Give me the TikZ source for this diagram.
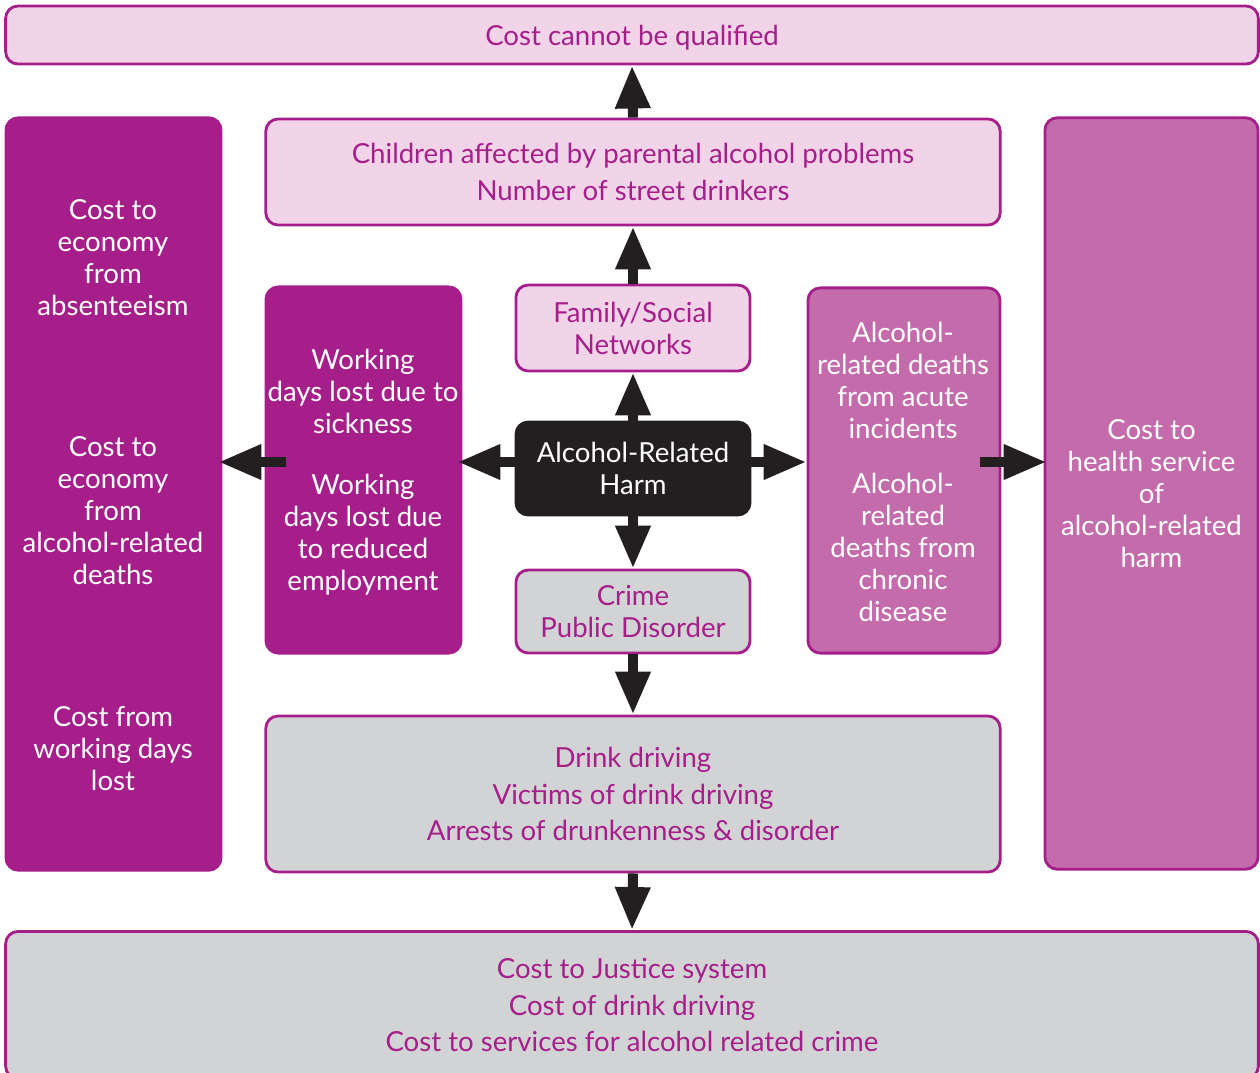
\documentclass[tikz,border=0pt]{standalone}
\usepackage{fontspec}
\setmainfont{Lato}
\usetikzlibrary{arrows.meta}
\definecolor{plum}{RGB}{166,30,138}
\definecolor{orchid}{RGB}{196,107,171}
\definecolor{blush}{RGB}{242,212,232}
\definecolor{ash}{RGB}{209,211,212}
\definecolor{ink}{RGB}{35,31,32}

\tikzset{
  box/.style={draw=plum, line width=0.8pt, rounded corners=3.5pt, align=center, inner sep=0pt, font=\fontsize{7.85}{9.1}\selectfont},
  pinkbox/.style={box, fill=blush, text=plum},
  greybox/.style={box, fill=ash, text=plum},
  plumbox/.style={box, fill=plum, text=white},
  orchidbox/.style={box, fill=orchid, text=white},
  widetext/.style={font=\fontsize{7.85}{10.5}\selectfont},
  coltext/.style={text=white, align=center, inner sep=0pt, font=\fontsize{7.85}{9.1}\selectfont},
  blockarrow/.style={draw=ink, line width=0.1cm, -{Triangle[length=0.43cm, width=0.33cm]}},
}

\begin{document}
\begin{tikzpicture}[x=0.01cm, y=-0.01cm]
    \useasboundingbox (0,0) rectangle (1260,1072);

    % outer boxes
    \node[pinkbox, text depth=0pt, minimum width=12.52cm, minimum height=0.58cm] (qualify) at (632,35) {Cost cannot be qualified};
    \node[plumbox, minimum width=2.15cm, minimum height=7.52cm] (economy) at (113.5,494) {};
    \node[orchidbox, minimum width=2.13cm, minimum height=7.51cm] (health) at (1151.5,493.5) {Cost to\\health service\\of\\alcohol-related\\harm};
    \node[greybox, widetext, minimum width=12.52cm, minimum height=1.47cm] (justice) at (632,1005) {Cost to Justice system\\Cost of drink driving\\Cost to services for alcohol related crime};

    % inner boxes
    \node[pinkbox, widetext, minimum width=7.34cm, minimum height=1.06cm] (children) at (633,172) {Children affected by parental alcohol problems\\Number of street drinkers};
    \node[plumbox, minimum width=1.95cm, minimum height=3.66cm] (working) at (363.5,470) {};
    \node[pinkbox, minimum width=2.34cm, minimum height=0.86cm] (family) at (633,328) {Family/Social\\Networks};
    \node[box, draw=ink, fill=ink, text=white, minimum width=2.34cm, minimum height=0.93cm] (harm) at (633,468.5) {Alcohol-Related\\Harm};
    \node[orchidbox, minimum width=1.92cm, minimum height=3.65cm] (deaths) at (904,470.5) {};
    \node[greybox, minimum width=2.34cm, minimum height=0.83cm] (crime) at (633,611.5) {Crime\\Public Disorder};
    \node[greybox, widetext, minimum width=7.34cm, minimum height=1.56cm] (driving) at (633,794) {Drink driving\\Victims of drink driving\\Arrests of drunkenness \& disorder};

    % texts in the columns
    \node[coltext] (absent) at (113,258) {Cost to\\economy\\from\\absenteeism};
    \node[coltext] (econdeaths) at (113,511) {Cost to\\economy\\from\\alcohol-related\\deaths};
    \node[coltext] (daycost) at (113,749) {Cost from\\working days\\lost};
    \node[coltext] (sickness) at (363,391) {Working\\days lost due to\\sickness};
    \node[coltext] (employ) at (363,535) {Working\\days lost due\\to reduced\\employment};
    \node[coltext] (acute) at (903,380) {Alcohol-\\related deaths\\from acute\\incidents};
    \node[coltext] (chronic) at (903,547) {Alcohol-\\related\\deaths from\\chronic\\disease};

    % arrows
    \coordinate (mid) at (633,462);
    \draw[blockarrow] (harm.north) -- (family.south);
    \draw[blockarrow] (family.north) -- (children.south);
    \draw[blockarrow] (children.north) -- (qualify.south);
    \draw[blockarrow] (harm.south) -- (crime.north);
    \draw[blockarrow] (crime.south) -- (driving.north);
    \draw[blockarrow] (driving.south) -- (justice.north);
    \draw[blockarrow] (harm.west |- mid) -- ([xshift=-0.05cm]working.east |- mid);
    \draw[blockarrow] ([xshift=0.21cm]working.west |- mid) -- ([xshift=-0.04cm]economy.east |- mid);
    \draw[blockarrow] (harm.east |- mid) -- (deaths.west |- mid);
    \draw[blockarrow] ([xshift=-0.21cm]deaths.east |- mid) -- ([xshift=0.03cm]health.west |- mid);

\end{tikzpicture}
\end{document}
